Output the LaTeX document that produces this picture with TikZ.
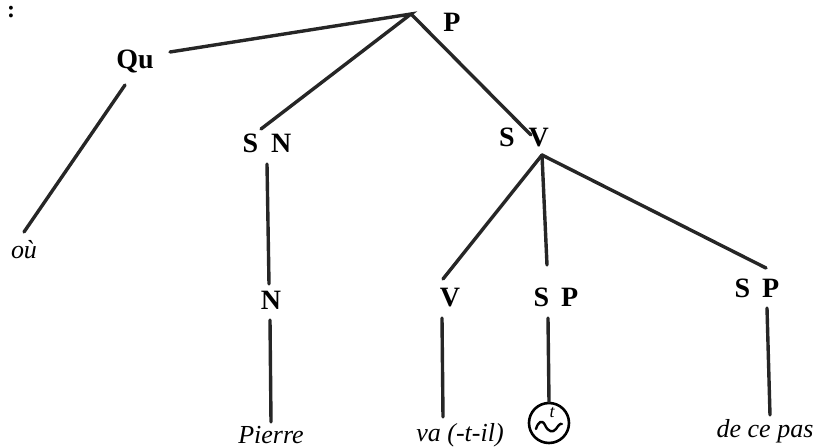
\documentclass[tikz,border=0pt]{standalone}
\usepackage{fontspec}
\setmainfont{Liberation Serif}
\newcommand\lgap[1]{\hspace{#1pt}}
\begin{document}
\begin{tikzpicture}[x=1pt,y=-1pt,
  lab/.style={font=\fontsize{28}{30}\selectfont\bfseries, inner sep=0pt},
  word/.style={font=\fontsize{26}{28}\selectfont\itshape, inner sep=0pt, anchor=base},
  br/.style={line width=3.4pt, line cap=round, black!85}]
\useasboundingbox (0,0) rectangle (815,447);
\node[font=\fontsize{24}{26}\selectfont\bfseries, inner sep=0pt] (colon) at (11,12) {:};
% labels
\node[lab] (P) at (452,22) {P};
\node[lab] (Qu) at (135,61) {Qu};
\node[lab] (SN) at (267,143) {S\lgap{13}N};
\node[lab] (SV) at (524,137) {S\lgap{14}V};
\node[lab] (N) at (271,300) {N};
\node[lab] (V) at (450,298) {V};
\node[lab] (SP1) at (556,297) {S\lgap{12}P};
\node[lab] (SP2) at (757,288) {S\lgap{12}P};
\node[word] (ou) at (24,258) {où};
\node[word] (pierre) at (271,443) {Pierre};
\node[word] (va) at (460,441) {va (-t-il)};
\node[word] (dcp) at (765,437) {de ce pas};
% attachment points
\coordinate (Pa) at (411,14);
\coordinate (Qr) at (170,52);
\coordinate (Qb) at (125,85);
\coordinate (ouT) at (24,232);
\coordinate (SNt) at (261,129);
\coordinate (SNb) at (267,164);
\coordinate (Nt) at (269,284);
\coordinate (Nb) at (270,320);
\coordinate (PiT) at (271,422);
\coordinate (SVt) at (531,135);
\coordinate (SVa) at (542,155);
\coordinate (Vt) at (443,279);
\coordinate (Vb) at (442,318);
\coordinate (vaT) at (443,417);
\coordinate (SP1t) at (547,265);
\coordinate (SP1b) at (548,318);
\coordinate (SP2t) at (766,268);
\coordinate (SP2b) at (767,308);
\coordinate (dcpT) at (770,415);
\node[circle, draw, line width=2.6pt, minimum size=40pt, inner sep=0pt] (circ) at (549,423) {};
\node[font=\fontsize{18}{18}\selectfont\itshape, inner sep=0pt] (tt) at (552,413) {t};
\draw[line width=2.4pt, line cap=round] (536,429) .. controls (538,422) and (542,419) .. (545,425) .. controls (548,432) and (553,433) .. (556,429) .. controls (558,426) and (560,423) .. (562,424);
% branches
\draw[br] (Qr) -- (Pa) -- (SNt);
\draw[br] (Pa) -- (SVt);
\draw[br] (Qb) -- (ouT);
\draw[br] (SNb) -- (Nt);
\draw[br] (Nb) -- (PiT);
\draw[br] (SVa) -- (Vt);
\draw[br] (SVa) -- (SP1t);
\draw[br] (SVa) -- (SP2t);
\draw[br] (Vb) -- (vaT);
\draw[br] (SP1b) -- (circ.north);
\draw[br] (SP2b) -- (dcpT);
\end{tikzpicture}
\end{document}
